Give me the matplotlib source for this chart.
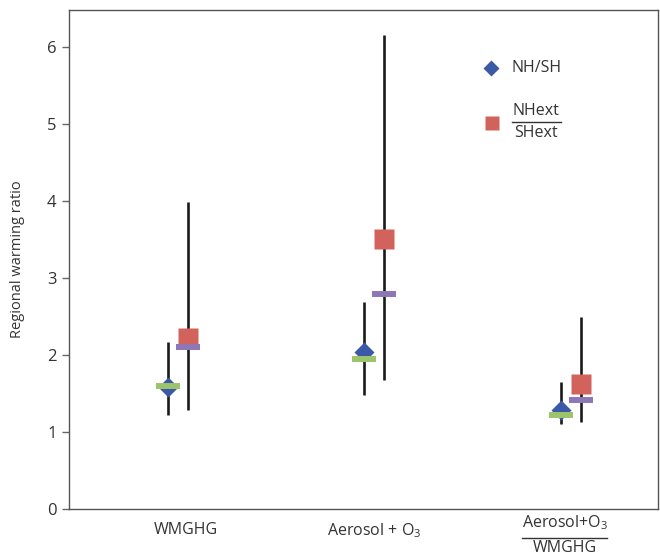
import numpy as np
import matplotlib
matplotlib.use("Agg")
import matplotlib.pyplot as plt
from matplotlib.lines import Line2D

plt.rcParams['font.family'] = ['Open Sans', 'DejaVu Sans']
plt.rcParams['mathtext.default'] = 'regular'

groups = ['WMGHG', 'Aerosol + O$_3$', 'ratio']
group_x = np.array([1.0, 2.0, 3.0])

# NH/SH
nh_best = [1.58, 2.04, 1.29]
nh_mean = [1.60, 1.95, 1.22]
nh_low = [1.22, 1.48, 1.10]
nh_high = [2.17, 2.69, 1.65]

# NHext/SHext
ext_best = [2.22, 3.51, 1.62]
ext_mean = [2.11, 2.79, 1.41]
ext_low = [1.29, 1.68, 1.13]
ext_high = [3.99, 6.15, 2.49]

blue = '#3b59a7'
red = '#d1625c'
green = '#9cc46b'
purple = '#8e77b6'
text_col = '#333333'

fig = plt.figure(figsize=(6.6, 5.58), dpi=100)
ax = fig.add_axes([69/660, 1 - 509/558, 589/660, 499/558])

off = 0.05
xn = group_x - off
xe = group_x + off

ax.vlines(xn, nh_low, nh_high, color='#1a1a1a', lw=1.9, zorder=1)
ax.vlines(xe, ext_low, ext_high, color='#1a1a1a', lw=1.9, zorder=1)
ax.plot(xn, nh_best, 'D', ms=9.7, color=blue, mec='none', zorder=2)
ax.plot(xe, ext_best, 's', ms=13.7, color=red, mec='none', zorder=2)
ax.plot(xn, nh_mean, '_', ms=17.3, mew=4.3, color=green, zorder=3)
ax.plot(xe, ext_mean, '_', ms=17.3, mew=4.3, color=purple, zorder=3)

ax.set_xlim(0.447, 3.443)
ax.set_ylim(0, 6.48)
ax.set_yticks(range(7))
ax.set_xticks([1.04, 2.0])
ax.set_xticklabels(groups[:2])
ax.tick_params(axis='x', length=0, labelsize=11.5, labelcolor=text_col, pad=9)
ax.tick_params(axis='y', length=5, width=1, color='#666666', labelsize=12,
               labelcolor=text_col, pad=4)
for s in ax.spines.values():
    s.set_color('#555555')
    s.set_linewidth(1)
ax.set_ylabel('Regional warming ratio', fontsize=10.5, color=text_col, labelpad=16)

# fraction tick label for third group
tr = ax.get_xaxis_transform()
ax.text(2.97, -0.028, 'Aerosol+O$_3$', transform=tr, ha='center', va='center',
        fontsize=11.5, color=text_col, clip_on=False)
ax.text(2.97, -0.079, 'WMGHG', transform=tr, ha='center', va='center',
        fontsize=11.5, color=text_col, clip_on=False)
ax.add_line(Line2D([2.75, 3.185], [-0.058, -0.058], transform=tr, color=text_col,
                   lw=1, clip_on=False))

# legend
ax.plot([0.7165], [0.8838], 'D', ms=8.5, color=blue, mec='none', transform=ax.transAxes)
ax.text(0.752, 0.8838, 'NH/SH', transform=ax.transAxes, va='center', ha='left',
        fontsize=11.5, color=text_col)
ax.plot([0.718], [0.7735], 's', ms=10.5, color=red, mec='none', transform=ax.transAxes)
ax.text(0.7935, 0.797, 'NHext', transform=ax.transAxes, va='center', ha='center',
        fontsize=11.5, color=text_col)
ax.add_line(Line2D([0.752, 0.835], [0.7755, 0.7755], transform=ax.transAxes,
                   color=text_col, lw=1))
ax.text(0.7935, 0.753, 'SHext', transform=ax.transAxes, va='center', ha='center',
        fontsize=11.5, color=text_col)

fig.savefig('out.png', dpi=100)
